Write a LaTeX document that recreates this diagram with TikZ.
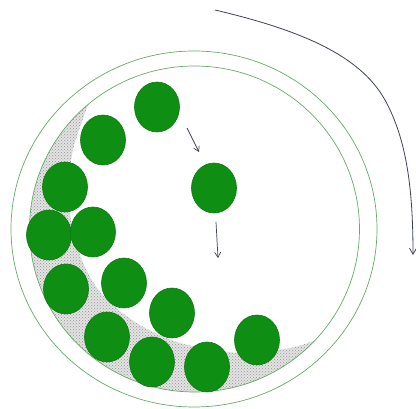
\documentclass[tikz,border=0pt]{standalone}
\usepackage{xcolor}
\usepackage{tikz}
\usetikzlibrary{shapes.geometric,patterns,arrows.meta}
\definecolor{BallGreen}{HTML}{0E8E12}
\definecolor{RingGreen}{HTML}{68A86C}
\definecolor{ArrowGrey}{HTML}{3C4250}

\begin{document}
\begin{tikzpicture}[x=1pt,y=-1pt,
    ball/.style={ellipse, fill=BallGreen, draw=BallGreen!85!black, line width=0.6pt,
                 inner sep=0pt, minimum width=45pt, minimum height=50pt},
    ring/.style={draw=RingGreen, line width=0.7pt},
    fallarrow/.style={draw=ArrowGrey, line width=0.7pt, -{Straight Barb[length=5pt,width=6pt]}}]
  \useasboundingbox (0,0) rectangle (416,409);
  \path[fill=gray!22, postaction={pattern=crosshatch dots, pattern color=gray!85}]
    (315.2,340.2) arc[start angle=43, end angle=230, x radius=165, y radius=163]
    -- plot[smooth] coordinates {(88.4,104.1) (73,150) (68,200) (80,255) (100,292)
                                  (135,322) (180,343) (240,353) (290,348) (315.2,340.2)}
    -- cycle;
  \draw[ring] (194,229) ellipse[x radius=183, y radius=178];
  \draw[ring] (194.5,229) ellipse[x radius=165, y radius=163];
  \foreach \i/\pos in {1/{(157,107)}, 2/{(103,140)}, 3/{(65,187)}, 4/{(49,235)},
                       5/{(93,232)}, 6/{(66,289)}, 7/{(124,283)}, 8/{(172,313)},
                       9/{(107,337)}, 10/{(152,362)}, 11/{(207,367)}, 12/{(257,340)},
                       13/{(214,188)}}
    \node[ball] (b\i) at \pos {};
  \coordinate (d1s) at (187,128);
  \coordinate (d1e) at (199,152);
  \coordinate (d2s) at (216,222);
  \coordinate (d2e) at (218,258);
  \draw[fallarrow] (d1s) -- (d1e);
  \draw[fallarrow] (d2s) -- (d2e);
  \coordinate (rot0) at (215,10);
  \coordinate (rot1) at (385,100);
  \coordinate (rot2) at (413,255);
  \draw[ArrowGrey, line width=0.8pt, -{Straight Barb[length=6pt,width=7pt]}]
    (rot0) .. controls (300,30) and (360,55) .. (rot1)
           .. controls (407,140) and (413,190) .. (rot2);
\end{tikzpicture}
\end{document}
